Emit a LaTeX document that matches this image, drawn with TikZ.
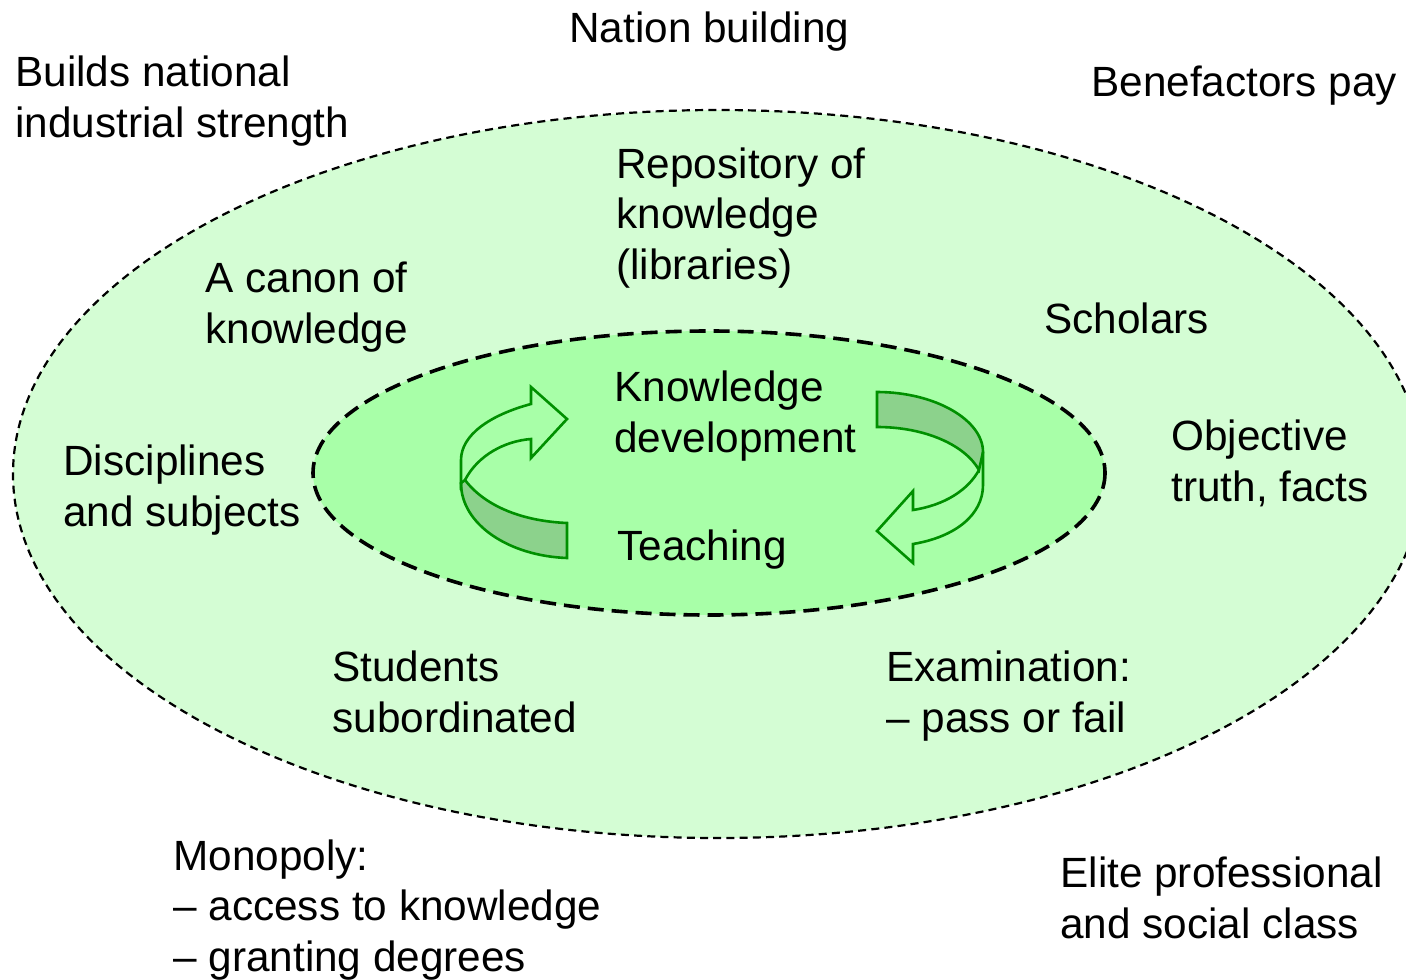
\documentclass[tikz,border=0pt]{standalone}
\usepackage{fontspec}
\setmainfont{Liberation Sans}
\definecolor{outerfill}{HTML}{D4FDD4}
\definecolor{innerfill}{HTML}{A8FFA8}
\definecolor{arrowline}{HTML}{009000}
\definecolor{arrowshade}{HTML}{8CD28C}
\tikzset{
  lbl/.style={right,inner sep=0pt,align=left,font=\fontsize{21.15}{25.4}\selectfont},
  outerring/.style={draw,fill=outerfill,line width=1.1pt,dash pattern=on 4pt off 2.6pt},
  innerring/.style={draw,fill=innerfill,line width=1.8pt,dash pattern=on 8pt off 4pt},
  arrowbody/.style={draw=arrowline,line width=1.3pt,line join=miter},
  arrowback/.style={arrowbody,fill=arrowshade}
}
\begin{document}
\begin{tikzpicture}[x=.5pt,y=-.5pt]
\useasboundingbox (0,0) rectangle (1406,979);
\begin{scope}
\clip (0,0) rectangle (1406,979);
\draw[outerring] (718,474) ellipse [x radius=705,y radius=364];
\draw[innerring] (709,473) ellipse [x radius=396,y radius=142];

% left arrow
\draw[arrowback] (461,483) .. controls (461,525) and (510,556) .. (567,558) -- (567,523)
 .. controls (520,521) and (484,505) .. (465,480) -- cycle;
\draw[arrowbody] (465,480) .. controls (478,455) and (505,441) .. (531,439) -- (531,458) -- (567,419) -- (531,387) -- (531,404)
 .. controls (490,415) and (461,435) .. (461,460) -- (461,490);
% right arrow
\draw[arrowback] (983,452) .. controls (983,420) and (935,392) .. (877,392) -- (877,427)
 .. controls (925,427) and (965,445) .. (979,470) -- cycle;
\draw[arrowbody] (979,470) .. controls (968,490) and (945,505) .. (913,510) -- (913,491) -- (877,531) -- (913,563) -- (913,544)
 .. controls (955,537) and (983,515) .. (983,485) -- (983,452);
\end{scope}

\node[lbl] (nation) at (569,32) {Nation building};
\node[lbl] (builds) at (15,101) {Builds national\\industrial strength};
\node[lbl] (benefactors) at (1091,86) {Benefactors pay};
\node[lbl] (repository) at (616,218) {Repository of\\knowledge\\(libraries)};
\node[lbl] (canon) at (205,307) {A canon of\\knowledge};
\node[lbl] (scholars) at (1044,318) {Scholars};
\node[lbl] (kdev) at (614,416) {Knowledge\\development};
\node[lbl] (objective) at (1171,463) {Objective\\truth, facts};
\node[lbl] (disciplines) at (63,490) {Disciplines\\and subjects};
\node[lbl] (teaching) at (617,550) {Teaching};
\node[lbl] (students) at (332,692) {Students\\subordinated};
\node[lbl] (exam) at (886,696) {Examination:\\-- pass or fail};
\node[lbl] (monopoly) at (173,910) {Monopoly:\\-- access to knowledge\\-- granting degrees};
\node[lbl] (elite) at (1060,898) {Elite professional\\and social class};
\end{tikzpicture}
\end{document}
